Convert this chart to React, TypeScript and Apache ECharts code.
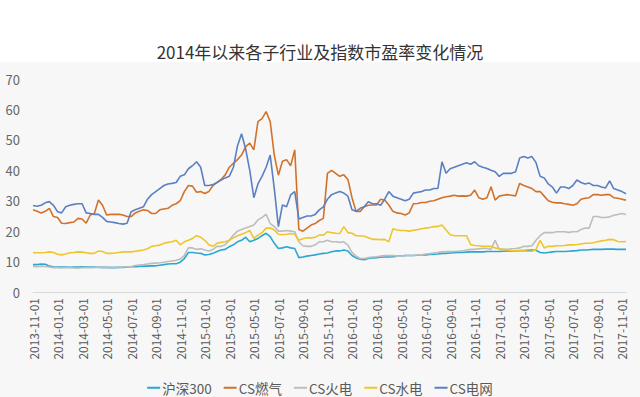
import React, { useEffect, useRef } from "react";
import * as echarts from "echarts";

// Sampling: 1st, 11th, 21st of each month from 2013-11 to 2017-11
const startYear = 2013;
const startMonth = 11;
const pointCount = 146;

const seriesNames = ["沪深300", "CS燃气", "CS火电", "CS水电", "CS电网"];
const seriesColors = ["#2aa7d0", "#d2722a", "#bdbdbd", "#eec62c", "#5b80c2"];

const hs300 = [
  9.0, 9.0, 9.2, 9.1, 8.5, 8.3, 8.2, 8.2, 8.2, 8.1, 8.2, 8.2,
  8.3, 8.3, 8.2, 8.2, 8.1, 8.1, 8.1, 8.0, 8.0, 8.1, 8.1, 8.2,
  8.3, 8.3, 8.4, 8.5, 8.5, 8.6, 8.6, 8.8, 9.0, 9.2, 9.3, 9.3,
  9.8, 11.0, 13.0, 13.0, 12.8, 12.7, 12.2, 12.3, 12.7, 13.3, 13.8, 14.0,
  14.9, 15.5, 16.5, 17.0, 18.0, 16.5, 17.0, 17.6, 18.5, 19.3, 18.2, 16.0,
  14.3, 14.5, 14.9, 14.5, 14.3, 11.3, 11.5, 11.8, 12.0, 12.2, 12.5, 12.7,
  12.8, 13.2, 13.5, 13.5, 13.8, 13.5, 12.0, 11.2, 10.8, 10.6, 11.0, 11.2,
  11.3, 11.4, 11.5, 11.5, 11.6, 11.8, 11.8, 12.0, 12.0, 12.0, 12.1, 12.2,
  12.2, 12.3, 12.4, 12.5, 12.7, 12.7, 12.8, 12.9, 13.0, 13.0, 13.1, 13.2,
  13.2, 13.2, 13.2, 13.3, 13.3, 13.3, 13.3, 13.4, 13.5, 13.5, 13.5, 13.6,
  13.6, 13.7, 13.8, 13.7, 13.0, 12.8, 13.0, 13.2, 13.3, 13.3, 13.3, 13.4,
  13.5, 13.6, 13.8, 13.8, 13.9, 14.0, 14.0, 14.0, 14.1, 14.1, 14.1, 14.0,
  14.0, 14.0,
];

const gas = [
  27.0, 26.5, 26.0, 26.5, 27.5, 24.8, 24.5, 22.6, 22.5, 22.8, 23.0, 24.2,
  24.0, 22.6, 25.3, 25.8, 30.2, 28.5, 25.3, 25.5, 25.5, 25.5, 25.3, 24.8,
  24.8, 26.0, 26.5, 27.0, 26.8, 25.8, 25.8, 27.0, 27.3, 27.5, 28.5, 29.0,
  30.0, 33.0, 35.0, 34.8, 32.8, 33.0, 32.4, 33.0, 35.0, 36.0, 37.0, 38.5,
  41.0, 42.3, 43.5, 45.0, 47.8, 48.9, 46.7, 56.0, 57.0, 59.3, 56.0, 45.0,
  38.4, 43.0, 43.5, 41.5, 46.7, 20.5, 20.0, 21.0, 22.0, 22.5, 23.5, 24.2,
  39.0, 40.0, 39.0, 38.0, 38.5, 37.0, 31.0, 26.5, 26.5, 28.0, 28.5, 28.6,
  28.6, 30.5, 30.2, 28.6, 26.5, 26.0, 25.8, 25.3, 26.0, 29.0, 29.1, 29.4,
  29.4, 29.8, 30.0, 30.5, 31.0, 31.3, 31.5, 31.8, 31.5, 31.6, 31.5, 31.8,
  33.5, 31.0, 30.5, 31.0, 34.6, 30.2, 31.5, 31.8, 32.0, 31.8, 31.6, 35.7,
  35.0, 34.5, 34.0, 33.0, 33.0, 31.5, 30.0, 29.5, 29.3, 29.3, 29.0, 28.8,
  28.5, 29.0, 30.5, 30.8, 31.0, 32.0, 32.0, 31.8, 32.0, 32.0, 31.0, 30.8,
  30.5, 30.2,
];

const thermal = [
  8.4, 8.3, 8.5, 8.4, 8.2, 8.0, 8.0, 7.9, 8.0, 8.0, 7.9, 7.8,
  8.0, 8.1, 8.0, 8.0, 8.2, 8.0, 8.0, 8.1, 8.1, 8.1, 8.2, 8.3,
  8.4, 8.7, 8.9, 9.0, 9.2, 9.4, 9.5, 9.6, 9.8, 10.0, 10.2, 10.4,
  10.8, 12.0, 14.5, 14.5, 14.0, 14.2, 13.8, 13.5, 14.0, 15.0, 15.0, 15.5,
  17.0, 18.7, 20.0, 20.5, 21.0, 21.5, 22.0, 23.7, 24.5, 25.5, 22.5, 21.5,
  20.0, 20.0, 20.2, 20.0, 19.8, 16.5, 15.2, 15.0, 15.0, 15.5, 16.5, 16.5,
  17.0, 16.5, 16.5, 16.3, 16.5, 15.4, 13.0, 11.8, 11.0, 11.0, 11.3, 11.5,
  11.6, 11.8, 12.0, 12.0, 12.0, 11.8, 11.8, 12.0, 12.0, 12.0, 12.2, 12.2,
  12.5, 12.6, 12.8, 13.0, 13.2, 13.3, 13.3, 13.3, 13.4, 13.5, 13.8, 14.0,
  14.0, 14.2, 14.3, 14.3, 14.0, 17.0, 14.0, 14.0, 14.0, 14.2, 14.3, 14.5,
  15.0, 15.0, 15.2, 17.0, 18.5, 19.5, 19.5, 19.5, 19.8, 19.8, 19.8, 19.6,
  19.8, 19.8, 20.5, 21.0, 21.0, 24.8, 24.8, 24.5, 24.5, 24.7, 25.2, 25.5,
  25.8, 25.5,
];

const hydro = [
  12.9, 12.9, 12.9, 13.0, 13.2, 13.0, 12.4, 12.2, 12.5, 12.9, 13.0, 13.2,
  13.1, 12.9, 12.7, 12.7, 13.5, 13.3, 12.7, 12.7, 12.8, 13.0, 13.2, 13.2,
  13.2, 13.4, 13.6, 13.8, 14.2, 15.0, 15.2, 15.4, 16.0, 16.3, 16.5, 17.0,
  15.5, 16.5, 17.0, 17.6, 18.5, 18.0, 17.0, 15.5, 15.0, 16.0, 16.3, 16.5,
  17.0, 17.8, 18.5, 19.0, 19.5, 20.2, 17.6, 18.7, 19.5, 21.0, 21.0, 20.4,
  19.0, 18.8, 19.0, 19.2, 19.0, 17.0, 17.5, 17.8, 17.8, 18.0, 18.7, 18.7,
  19.8, 19.5, 19.3, 19.2, 21.5, 19.5, 19.3, 18.5, 18.5, 18.3, 17.8, 17.3,
  17.3, 17.2, 17.3, 16.5, 20.8, 20.4, 20.2, 20.2, 20.0, 20.3, 20.5, 20.8,
  21.0, 21.2, 21.5, 21.5, 22.0, 20.4, 18.8, 18.5, 18.5, 18.5, 18.5, 15.6,
  15.3, 15.2, 15.0, 15.0, 15.0, 14.5, 14.2, 14.0, 13.8, 13.6, 13.5, 13.5,
  13.5, 13.4, 13.4, 14.0, 17.0, 14.5, 15.0, 15.0, 15.2, 15.2, 15.3, 15.5,
  15.5, 15.6, 15.8, 16.0, 16.0, 16.2, 16.5, 16.8, 17.0, 17.3, 17.2, 16.6,
  16.5, 16.6,
];

const grid = [
  28.4, 28.2, 28.5, 29.3, 29.7, 28.5, 26.4, 26.0, 28.0, 28.5, 28.8, 29.0,
  29.0, 26.0, 25.8, 25.5, 25.5, 24.5, 23.2, 23.0, 22.8, 22.5, 22.3, 22.6,
  26.4, 27.0, 27.5, 28.0, 30.5, 32.0, 33.0, 34.0, 35.0, 35.5, 35.7, 36.0,
  38.0, 38.5, 40.5, 41.5, 42.8, 41.0, 35.0, 35.0, 35.3, 36.0, 36.8, 37.5,
  38.0, 41.0, 48.0, 52.0, 47.0, 40.0, 31.0, 35.5, 38.0, 41.0, 45.0, 34.0,
  21.5, 28.6, 28.0, 31.9, 33.0, 24.0, 24.5, 25.0, 25.0, 25.5, 27.0, 28.0,
  30.5, 32.0, 32.5, 33.0, 32.5, 31.5, 27.0, 26.5, 27.5, 28.0, 29.7, 29.0,
  29.0, 28.5, 30.5, 33.0, 31.5, 31.0, 30.5, 30.0, 30.5, 32.5, 32.8, 33.0,
  33.5, 33.5, 34.0, 34.0, 42.8, 39.0, 40.5, 41.0, 41.5, 42.0, 42.5, 42.0,
  42.8, 41.5, 41.0, 40.6, 40.0, 39.5, 38.0, 39.0, 39.0, 39.0, 39.5, 44.0,
  44.5, 44.0, 44.5, 42.5, 38.0, 37.5, 35.5, 34.5, 32.5, 34.5, 34.5, 34.0,
  35.0, 36.8, 36.0, 35.5, 35.8, 35.0, 35.0, 34.5, 34.2, 36.5, 34.0, 33.5,
  33.0, 32.3,
];

const seriesValues = [hs300, gas, thermal, hydro, grid];

const yTicks = { min: 0, max: 70, interval: 10 };

function buildDates(): string[] {
  const out: string[] = [];
  const days = ["01", "11", "21"];
  for (let i = 0; i < pointCount; i++) {
    const mIdx = Math.floor(i / 3);
    const total = startMonth - 1 + mIdx;
    const y = startYear + Math.floor(total / 12);
    const m = (total % 12) + 1;
    out.push(`${y}-${m < 10 ? "0" + m : m}-${days[i % 3]}`);
  }
  return out;
}

const FONT = "'Noto Sans CJK SC', 'Noto Sans', sans-serif";

export default function App() {
  const ref = useRef<HTMLDivElement>(null);
  useEffect(() => {
    if (!ref.current) return;
    const chart = echarts.init(ref.current, undefined, { renderer: "svg" });
    const dates = buildDates();
    chart.setOption({
      animation: false,
      backgroundColor: "#ffffff",
      textStyle: { fontFamily: FONT },
      graphic: [
        {
          type: "rect",
          left: 0,
          top: 62,
          shape: { x: 0, y: 0, width: 640, height: 335 },
          style: { fill: "#f7f7f7" },
          z: -10,
          silent: true,
        },
      ],
      title: {
        text: "2014年以来各子行业及指数市盈率变化情况",
        left: "center",
        top: 38,
        textStyle: { fontFamily: FONT, fontSize: 17, fontWeight: "normal", color: "#333333" },
      },
      legend: {
        left: "center",
        top: 376,
        icon: "rect",
        itemWidth: 13,
        itemHeight: 2,
        itemGap: 12,
        textStyle: { fontFamily: FONT, fontSize: 13.5, color: "#595959", padding: [0, 0, 0, -3] },
        data: seriesNames,
      },
      grid: { left: 33, right: 14, top: 79, height: 213, containLabel: false },
      xAxis: {
        type: "category",
        data: dates,
        boundaryGap: false,
        axisLine: { lineStyle: { color: "#d9d9d9" } },
        axisTick: { show: false },
        axisLabel: {
          interval: 5,
          rotate: 90,
          margin: 6,
          fontSize: 12,
          color: "#595959",
          fontFamily: FONT,
        },
        splitLine: { show: false },
      },
      yAxis: {
        type: "value",
        min: yTicks.min,
        max: yTicks.max,
        interval: yTicks.interval,
        axisLine: { show: false },
        axisTick: { show: false },
        splitLine: { show: false },
        axisLabel: { fontSize: 13, color: "#666666", margin: 13, fontFamily: FONT },
      },
      series: seriesNames.map((name, i) => ({
        name,
        type: "line",
        data: seriesValues[i],
        showSymbol: false,
        symbol: "none",
        lineStyle: { width: 1.6, color: seriesColors[i] },
        itemStyle: { color: seriesColors[i] },
        z: i === 4 ? 3 : 2,
      })),
    });
    return () => chart.dispose();
  }, []);
  return (
    <div
      ref={ref}
      style={{ position: "fixed", left: 0, top: 0, width: 640, height: 397 }}
    />
  );
}
